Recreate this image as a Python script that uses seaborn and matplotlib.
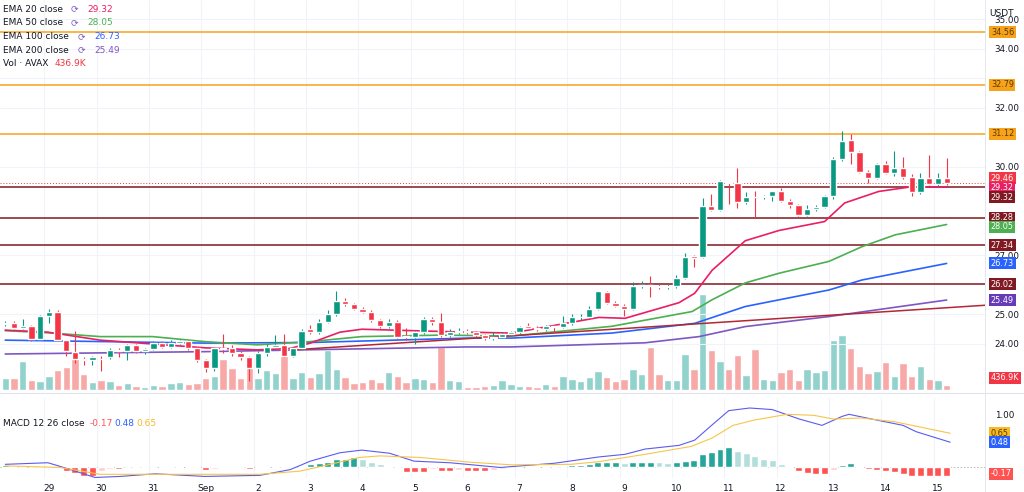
import numpy as np
import pandas as pd
import matplotlib
matplotlib.use("Agg")
import matplotlib.pyplot as plt
import matplotlib.transforms as mtrans
import seaborn as sns

# ---------------- data (4h candles, AVAX/USDT) ----------------
opens = [24.68,24.72,24.55,24.60,24.17,24.95,25.10,24.14,23.73,23.50,23.45,23.50,23.55,23.80,23.75,23.95,23.75,23.82,24.05,23.90,
         24.05,24.10,23.85,23.45,23.20,23.85,23.85,23.70,23.55,23.20,23.70,23.90,23.97,23.60,23.85,24.50,24.40,24.75,25.00,25.45,
         25.35,25.20,25.10,24.80,24.60,24.75,24.25,24.25,24.40,24.85,24.75,24.30,24.40,24.45,24.40,24.30,24.20,24.25,24.35,24.40,
         24.60,24.55,24.50,24.62,24.58,24.70,24.90,24.90,25.20,25.77,25.40,25.30,25.20,25.95,26.00,25.98,25.92,25.95,26.24,26.98,
         26.95,28.68,28.55,29.50,29.45,28.80,28.98,28.97,29.00,29.17,28.83,28.72,28.38,28.57,28.65,29.03,30.26,30.90,30.50,29.84,
         29.62,30.10,29.78,29.98,29.66,29.14,29.62,29.42,29.62]
closes = [24.72,24.55,24.60,24.17,24.95,25.10,24.14,23.76,23.50,23.45,23.55,23.48,23.80,23.75,23.95,23.75,23.82,24.05,23.90,24.05,
          24.10,23.85,23.45,23.20,23.85,23.84,23.70,23.55,23.20,23.70,23.90,23.97,23.60,23.85,24.45,24.40,24.75,25.00,25.45,25.35,
          25.20,25.10,24.80,24.60,24.75,24.25,24.24,24.40,24.85,24.75,24.30,24.40,24.45,24.40,24.30,24.20,24.25,24.35,24.40,24.56,
          24.55,24.50,24.62,24.58,24.70,24.90,24.92,25.20,25.78,25.40,25.30,25.20,25.95,26.00,25.98,25.92,25.95,26.24,26.96,26.92,
          28.68,28.55,29.54,29.45,28.80,28.98,28.97,29.00,29.17,28.83,28.72,28.38,28.57,28.65,29.03,30.26,30.89,30.50,29.84,29.62,
          30.10,29.78,29.98,29.66,29.14,29.62,29.42,29.62,29.46]
highs = [24.78,24.78,24.85,24.65,24.98,25.20,25.15,24.15,24.45,23.55,23.60,23.60,23.85,23.85,24.00,24.00,23.87,24.10,24.10,24.12,
         24.15,24.12,23.88,23.50,23.90,24.35,23.95,23.75,23.60,23.75,24.00,24.30,24.35,23.90,24.50,24.65,24.85,25.15,25.80,25.55,
         25.40,25.25,25.15,24.85,24.85,24.80,24.55,24.45,24.90,24.90,25.05,24.50,24.55,24.50,24.45,24.35,24.40,24.40,24.45,24.60,
         24.70,24.60,24.65,24.65,24.95,25.00,25.00,25.30,25.80,25.80,25.45,25.35,26.10,26.15,26.30,26.05,26.05,26.35,27.10,27.00,
         28.95,29.10,29.55,29.50,29.95,29.15,29.20,29.05,29.20,29.30,28.90,28.75,28.70,28.70,29.05,30.35,31.22,31.12,30.55,29.90,
         30.12,30.20,30.55,30.35,29.75,29.80,30.40,29.80,30.30]
lows = [24.62,24.50,24.50,24.10,24.15,24.70,24.10,23.60,23.35,23.30,23.30,23.10,23.50,23.55,23.45,23.70,23.65,23.80,23.85,23.88,
        24.00,23.80,23.40,23.05,23.10,23.70,23.60,23.45,22.75,23.00,23.60,23.85,23.55,23.55,23.80,24.35,24.35,24.70,24.95,25.30,
        25.15,25.05,24.75,24.55,24.55,24.20,24.15,24.00,24.35,24.65,24.25,24.25,24.35,24.35,24.25,24.15,24.15,24.20,24.30,24.35,
        24.50,24.45,24.45,24.40,24.55,24.65,24.80,24.88,25.15,25.35,25.25,24.95,25.15,25.90,25.60,25.85,25.88,25.90,26.20,26.60,
        26.90,28.50,28.50,28.75,28.60,28.75,28.30,28.90,28.85,28.80,28.60,28.33,28.33,28.50,28.60,28.90,30.20,30.10,29.80,29.45,
        29.60,29.75,29.70,29.60,29.00,29.10,29.40,29.35,29.40]
volumes = [12,12,29,10,9,14,20,23,32,16,8,10,9,5,7,4,3,5,4,7,8,6,7,12,14,31,22,12,23,12,20,17,43,12,18,13,17,40,21,13,
           7,8,11,8,18,14,8,12,11,8,43,10,9,3,3,4,5,10,6,
           4,4,3,6,4,14,11,9,13,19,13,9,11,21,16,43,16,10,10,36,21,96,40,29,21,35,15,41,11,10,
           18,21,10,21,18,20,50,55,42,24,17,19,28,14,27,14,24,11,10,5]  # units of ~87K
macd_hist = [0.04,0.03,0.03,0.01,0.01,0.01,0.02,-0.06,-0.10,-0.16,-0.16,-0.06,-0.03,-0.03,0.01,0.01,-0.01,0.01,0.01,-0.01,
             0.01,0.01,-0.01,-0.04,-0.02,-0.01,-0.01,-0.01,-0.02,-0.01,0.01,0.02,0.03,0.03,0.03,0.06,0.08,0.11,0.16,0.17,
             0.19,0.16,0.11,0.06,0.03,0.01,-0.08,-0.08,-0.08,-0.03,-0.07,-0.07,-0.04,-0.07,-0.07,-0.07,-0.04,-0.02,-0.01,
             0.01,0.01,0.01,0.01,0.01,0.01,0.04,0.05,0.06,0.10,0.10,0.10,0.08,0.10,0.11,0.11,0.10,0.08,0.10,0.13,0.15,
             0.25,0.29,0.35,0.38,0.32,0.27,0.21,0.16,0.15,0.06,0.00,-0.06,-0.11,-0.13,-0.13,-0.04,0.05,0.08,0.03,-0.03,
             -0.04,-0.06,-0.08,-0.13,-0.17,-0.17,-0.17,-0.17,-0.17]
macd_x = [0,4.9,7.5,10.3,13.2,17.2,22.9,29.2,32.7,35,38.4,40.9,44.1,46.9,51,56.8,63,68.1,71.1,73.4,77.3,79.1,81.1,83,85.4,
          88,91.1,93.7,96,96.8,100,103,104.5,108.4]
macd_line = [0.06,0.09,-0.04,-0.19,-0.17,-0.12,-0.17,-0.15,-0.04,0.12,0.28,0.33,0.27,0.12,0.09,0.0,0.08,0.20,0.25,0.35,0.42,
             0.52,0.81,1.08,1.13,1.10,0.92,0.80,0.97,1.01,0.90,0.80,0.68,0.48]
sig_x = [0,6.3,10.9,16.6,22.9,29.2,33.8,37.3,40.6,43,47.6,53.3,58.1,64.9,68.1,73.4,78.7,81.1,83.5,85.9,89.7,92.8,95,98.2,102,108.4]
sig_line = [0.03,0.0,-0.13,-0.13,-0.13,-0.13,-0.07,0.06,0.19,0.22,0.19,0.10,0.05,0.06,0.11,0.25,0.40,0.56,0.80,0.90,1.01,0.99,
            0.92,0.94,0.87,0.65]
ema20_x = [0,4.9,10.9,16.9,22.9,28.9,32.7,35,38.4,40.9,46.9,53,58.1,68.1,71.1,77.3,79.1,81.1,84.9,88.8,94,96.3,100.2,104,108]
ema20 = [24.47,24.40,24.13,24.00,23.87,23.80,23.85,24.03,24.40,24.50,24.45,24.40,24.37,24.90,24.87,25.40,25.72,26.50,27.50,
         27.85,28.15,28.78,29.17,29.33,29.32]
ema50_x = [0,4.9,10.9,16.9,22.9,28.9,35,40.9,49.9,58.1,69.6,78.8,81.1,84.9,88.8,94.5,98.3,102.1,108]
ema50 = [24.45,24.38,24.25,24.25,24.08,23.97,24.08,24.25,24.30,24.27,24.60,25.10,25.50,26.07,26.40,26.80,27.30,27.70,28.05]
ema100_x = [0,22.9,35,53,58.1,69.6,79.1,84.9,94.5,98.3,108]
ema100 = [24.13,24.03,24.05,24.20,24.20,24.37,24.70,25.27,25.83,26.17,26.73]
ema200_x = [0,22.9,53,58.1,73.4,79.6,84.9,94.5,108]
ema200 = [23.66,23.74,23.90,23.90,24.04,24.25,24.59,24.93,25.49]
trend_x = [33, 117]
trend_y = [23.80, 25.40]
orange_levels = [34.56, 32.79, 31.12]
red_levels = [29.32, 28.28, 27.34, 26.02]
day_labels = ["29","30","31","Sep","2","3","4","5","6","7","8","9","10","11","12","13","14","15"]
day_pos = [5 + 6*k for k in range(len(day_labels))]
price_ticks = [24, 25, 27, 30, 32, 34, 35]

# ---------------- styling ----------------
sns.set_theme(style="white")
UP, DN = "#089981", "#f23645"
VUP, VDN = "#92d2cc", "#f7a9a7"
fig = plt.figure(figsize=(10.24, 4.92), dpi=100)
fig.patch.set_facecolor("white")
W = 985/1024
ax = fig.add_axes([0, 1-390/492, W, 390/492])
axm = fig.add_axes([0, 1-478/492, W, 80/492], sharex=ax)
axv = ax.twinx()

n = len(closes)
idx = np.arange(n)
up = np.array(closes) >= np.array(opens)

axv.bar(idx, volumes, width=0.85, color=[VUP if u else VDN for u in up], zorder=0)
axv.set_ylim(0, 388)
axv.set_yticks([]); axv.axis("off")
ax.set_zorder(axv.get_zorder()+1); ax.patch.set_visible(False)

for p in day_pos:
    ax.axvline(p-0.5, color="#f0f3fa", lw=0.8, zorder=0)
    axm.axvline(p-0.5, color="#f0f3fa", lw=0.8, zorder=0)
for t in price_ticks + [33]:
    ax.axhline(t, color="#f0f3fa", lw=0.8, zorder=0)

for lv in orange_levels:
    ax.axhline(lv, color="#f7a21b", lw=1.1, zorder=2)
for lv in red_levels:
    ax.axhline(lv, color="#801922", lw=1.1, zorder=2)
ax.axhline(closes[-1], color=DN, lw=0.7, ls=(0, (1, 2)), zorder=2)

for xs, ys, c in [(ema200_x, ema200, "#7e57c2"), (ema100_x, ema100, "#2962ff"),
                  (ema50_x, ema50, "#4caf50"), (ema20_x, ema20, "#e91e63")]:
    sns.lineplot(x=xs, y=ys, ax=ax, color=c, lw=1.2, zorder=3)
sns.lineplot(x=trend_x, y=trend_y, ax=ax, color="#b22833", lw=1.1, zorder=3)

for i in range(n):
    c = UP if up[i] else DN
    ax.vlines(i, lows[i], highs[i], color=c, lw=0.8, zorder=4)
    lo, hi = min(opens[i], closes[i]), max(opens[i], closes[i])
    ax.bar(i, max(hi-lo, 0.02), bottom=lo, width=0.72, color=c, zorder=5)

ax.set_xlim(-0.6, 112.4)
ax.set_ylim(22.44, 35.66)
ax.yaxis.tick_right()
ax.set_yticks(price_ticks)
ax.set_yticklabels([f"{t:.2f}" for t in price_ticks], fontsize=6.3, color="#131722")
ax.tick_params(axis="y", length=0, pad=7)
ax.tick_params(axis="x", length=0, labelbottom=False)
for s in ax.spines.values():
    s.set_visible(False)
ax.set_xlabel(""); ax.set_ylabel("")

hcols = []
for i, h in enumerate(macd_hist):
    prev = macd_hist[i-1] if i > 0 else h
    if h >= 0:
        hcols.append("#26a69a" if h >= prev else "#b2dfdb")
    else:
        hcols.append("#ff5252" if h <= prev else "#ffcdd2")
axm.bar(idx, macd_hist, width=0.8, color=hcols, zorder=2)
sns.lineplot(x=macd_x, y=macd_line, ax=axm, color="#5b5bf0", lw=0.8, zorder=3)
sns.lineplot(x=sig_x, y=sig_line, ax=axm, color="#f7c548", lw=0.8, zorder=3)
axm.axhline(0, color="#b2b5be", lw=0.6, ls=(0, (2, 2)), zorder=1)
axm.set_ylim(-0.2, 1.32)
axm.yaxis.tick_right()
axm.set_yticks([1.0])
axm.set_yticklabels(["1.00"], fontsize=6.3, color="#131722")
axm.tick_params(axis="y", length=0, pad=7)
axm.set_xticks(day_pos)
axm.set_xticklabels(day_labels, fontsize=6.5, color="#131722")
axm.tick_params(axis="x", length=0, pad=4)
for s in axm.spines.values():
    s.set_visible(False)
axm.set_xlabel(""); axm.set_ylabel("")
fig.add_artist(plt.Line2D([0, 1], [1-393/492]*2, color="#e0e3eb", lw=0.8))
fig.add_artist(plt.Line2D([W, W], [0, 1], color="#e0e3eb", lw=0.6))

def tag(a, y, txt, fc, tc="white"):
    tr = mtrans.blended_transform_factory(a.transAxes, a.transData)
    a.text(1.006, y, txt, transform=tr, fontsize=5.9, color=tc, va="center", ha="left",
           bbox=dict(boxstyle="square,pad=0.18", fc=fc, ec="none"), zorder=10, clip_on=False)

for lv in orange_levels:
    tag(ax, lv, f"{lv:.2f}", "#f7a21b", "#5d3a00")
tag(ax, 29.62, "29.46", DN)
tag(ax, 29.30, "29.32", "#e91e63")
tag(ax, 28.98, "29.32", "#801922")
tag(ax, 28.28, "28.28", "#801922")
tag(ax, 27.98, "28.05", "#4caf50")
tag(ax, 27.34, "27.34", "#801922")
tag(ax, 26.73, "26.73", "#2962ff")
tag(ax, 26.02, "26.02", "#801922")
tag(ax, 25.49, "25.49", "#673ab7")
tag(ax, 22.85, "436.9K", DN)
tag(axm, 0.65, "0.65", "#f7b924", "#5d3a00")
tag(axm, 0.48, "0.48", "#2962ff")
tag(axm, -0.12, "-0.17", "#ff5252")
fig.text(0.966, 0.982, "USDT", fontsize=6.5, color="#131722", va="top")

leg = [("EMA 20 close", "29.32", "#e91e63"), ("EMA 50 close", "28.05", "#4caf50"),
       ("EMA 100 close", "26.73", "#2962ff"), ("EMA 200 close", "25.49", "#7e57c2"),
       ("Vol · AVAX", "436.9K", DN)]
for k, (name, val, col) in enumerate(leg):
    y = 1 - (9 + 13.7*k)/492
    fig.text(0.003, y, name, fontsize=6.5, color="#131722", va="center")
    off = 0.073 if "100" in name or "200" in name else 0.066
    if "Vol" in name:
        fig.text(0.003+0.050, y, val, fontsize=6.5, color=col, va="center")
    else:
        fig.text(0.003+off, y, "⟳", fontsize=6.5, color="#7e57c2", va="center")
        fig.text(0.003+off+0.016, y, val, fontsize=6.5, color=col, va="center")
ym = 1 - 424/492
fig.text(0.003, ym, "MACD 12 26 close", fontsize=6.5, color="#131722", va="center")
fig.text(0.087, ym, "-0.17", fontsize=6.5, color="#ff5252", va="center")
fig.text(0.112, ym, "0.48", fontsize=6.5, color="#2962ff", va="center")
fig.text(0.133, ym, "0.65", fontsize=6.5, color="#f7b924", va="center")

fig.savefig("out.png", dpi=100, facecolor="white")
